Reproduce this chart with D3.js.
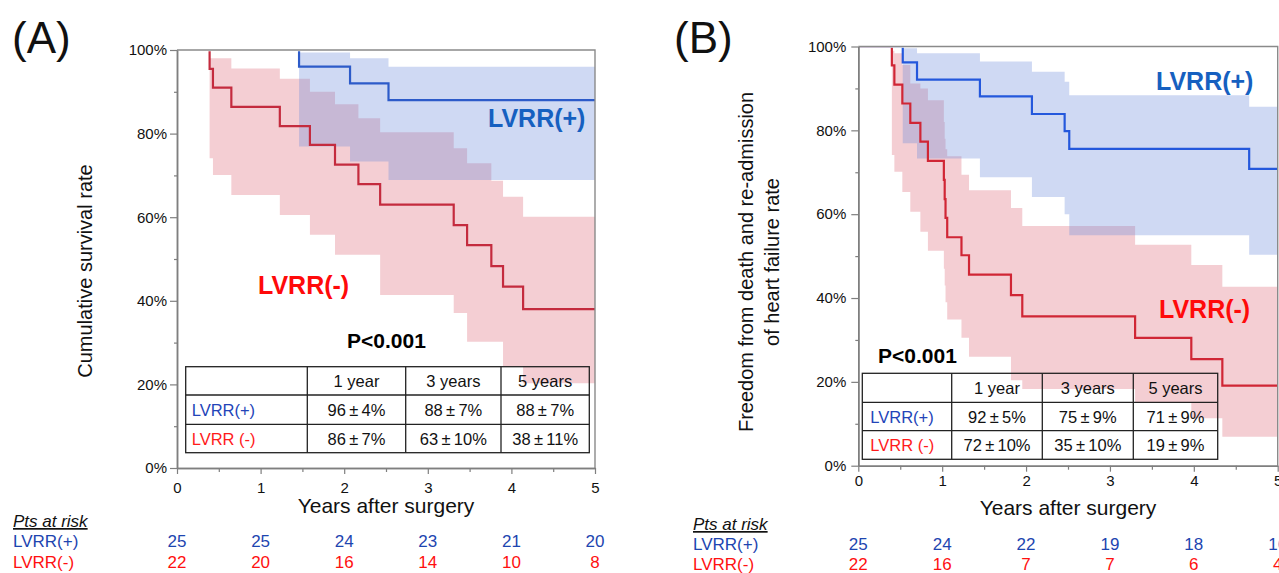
<!DOCTYPE html>
<html><head><meta charset="utf-8">
<script src="https://cdn.jsdelivr.net/npm/d3@7"></script>
<style>
html,body{margin:0;padding:0;background:#fff;overflow:hidden;}
svg{display:block;font-family:"Liberation Sans",Arial,sans-serif;}
</style></head><body>
<svg id="chart" width="1279" height="573"></svg>
<script>
// ---------------- DATA ----------------
const xTicks = [0, 1, 2, 3, 4, 5];
const xMinorTicks = [0.5, 1.5, 2.5, 3.5, 4.5];
const yTicks = [0, 20, 40, 60, 80, 100];
const yMinorTicks = [10, 30, 50, 70, 90];
const groups = ["LVRR(+)", "LVRR(-)"];
const tableHeaders = ["1 year", "3 years", "5 years"];
const tableRowLabels = ["LVRR(+)", "LVRR (-)"];

// Panel A : cumulative survival
const A_pos_time  = [0, 1.46, 2.07, 2.53];
const A_pos_surv  = [100, 96.0, 92.0, 88.0];
const A_pos_upper = [100, 99.4, 98.0, 96.0];
const A_pos_lower = [100, 76.9, 73.3, 68.9];

const A_neg_time  = [0, 0.39, 0.43, 0.65, 1.23, 1.59, 1.89, 2.17, 2.43, 3.31, 3.47, 3.76, 3.90, 4.14];
const A_neg_surv  = [100, 95.5, 91.0, 86.4, 81.8, 77.3, 72.6, 67.9, 63.0, 58.1, 53.3, 48.3, 43.4, 38.0];
const A_neg_upper = [100, 98.0, 98.0, 95.6, 93.1, 90.0, 87.0, 83.7, 80.3, 76.5, 72.9, 68.7, 64.9, 60.1];
const A_neg_lower = [100, 74.1, 70.1, 65.3, 60.5, 55.8, 51.0, 51.0, 41.4, 37.1, 30.2, 30.2, 24.2, 20.3];

const A_table_pos = ["96\u2009±\u20094%", "88\u2009±\u20097%", "88\u2009±\u20097%"];
const A_table_neg = ["86\u2009±\u20097%", "63\u2009±\u200910%", "38\u2009±\u200911%"];
const A_risk_pos = [25, 25, 24, 23, 21, 20];
const A_risk_neg = [22, 20, 16, 14, 10, 8];

// Panel B : freedom from death and HF re-admission
const B_pos_time  = [0, 0.53, 0.70, 1.45, 2.07, 2.46, 2.515, 4.66];
const B_pos_surv  = [100, 96.2, 92.1, 88.1, 83.9, 79.8, 75.6, 70.8];
const B_pos_upper = [100, 99.6, 98.4, 96.4, 94.0, 91.6, 88.4, 85.6];
const B_pos_lower = [100, 76.9, 73.3, 68.8, 64.1, 60.0, 55.0, 50.3];

const B_neg_time  = [0, 0.40, 0.43, 0.525, 0.62, 0.74, 0.83, 1.02, 1.03, 1.04, 1.06, 1.23, 1.32, 1.82, 1.955, 3.30, 3.97, 4.34];
const B_neg_surv  = [100, 95.5, 90.9, 86.4, 81.8, 77.3, 72.7, 68.2, 63.6, 59.1, 54.5, 50.2, 45.6, 40.7, 35.6, 30.5, 25.4, 19.1];
const B_neg_upper = [100, 99.0, 98.4, 95.6, 91.2, 90.0, 87.2, 82.0, 78.0, 75.5, 73.8, 69.4, 65.7, 61.5, 57.2, 52.7, 47.9, 42.7];
const B_neg_lower = [100, 74.1, 70.1, 65.3, 60.6, 55.8, 51.3, 47.0, 43.0, 39.0, 34.9, 30.5, 26.0, 20.4, 18.3, 15.0, 11.3, 6.9];

const B_table_pos = ["92\u2009±\u20095%", "75\u2009±\u20099%", "71\u2009±\u20099%"];
const B_table_neg = ["72\u2009±\u200910%", "35\u2009±\u200910%", "19\u2009±\u20099%"];
const B_risk_pos = [25, 24, 22, 19, 18, 16];
const B_risk_neg = [22, 16, 7, 7, 6, 4];

// ---------------- DRAWING ----------------
const svg = d3.select("#chart");
const defs = svg.append("defs");
const C = {
  pinkBand: "#f4ced3", blueBand: "rgb(109,140,218)", blueBandOp: 0.33,
  axis: "#7f7f7f", lblBlue: "#1660c0", lblRed: "#ff0a0a",
  rowBlue: "#2344b8", rowRed: "#ff1a1a", riskBlue: "#1d45b0", riskRed: "#ff1010"
};

function panel(cfg) {
  const x = d3.scaleLinear().domain([0, 5]).range(cfg.xr);
  const y = d3.scaleLinear().domain([0, 100]).range(cfg.yr);
  const g = svg.append("g");
  const [x0, x1] = x.range(), [yb, yt] = y.range();

  defs.append("clipPath").attr("id", cfg.id).append("rect")
    .attr("x", x0 - 3).attr("y", yt + 1.2).attr("width", x1 - x0 + 6).attr("height", yb - yt);

  const mk = (t, s, u, l) => {
    const pts = t.map((tt, i) => ({ t: tt, s: s[i], u: u[i], l: l[i] }));
    const last = pts[pts.length - 1];
    pts.push({ t: x.domain()[1], s: last.s, u: last.u, l: last.l });
    return pts;
  };
  const pos = mk(...cfg.pos);
  const neg = mk(...cfg.neg);
  const area = d3.area().curve(d3.curveStepAfter).x(d => x(d.t)).y0(d => y(d.l)).y1(d => y(d.u));
  const line = d3.line().curve(d3.curveStepAfter).x(d => x(d.t)).y(d => y(d.s));

  g.append("path").datum(neg).attr("d", area).attr("fill", C.pinkBand);
  g.append("path").datum(pos).attr("d", area).attr("fill", C.blueBand).attr("fill-opacity", C.blueBandOp);
  const lg = g.append("g").attr("clip-path", `url(#${cfg.id})`);
  lg.append("path").datum(neg).attr("d", line).attr("fill", "none").attr("stroke", cfg.redLine).attr("stroke-width", 2.2);
  lg.append("path").datum(pos).attr("d", line).attr("fill", "none").attr("stroke", cfg.blueLine).attr("stroke-width", 2.2);

  // frame (top & right)
  g.append("path").attr("d", `M${x0},${yt}H${x1}V${yb}`).attr("fill", "none").attr("stroke", "#8a8a8a").attr("stroke-width", 1.4);

  // axes
  const styleAxis = sel => {
    sel.selectAll("path.domain").attr("stroke", C.axis).attr("stroke-width", 1.5);
    sel.selectAll(".tick line").attr("stroke", C.axis).attr("stroke-width", 1.2);
    sel.selectAll("text").attr("fill", "#111").style("font-family", '"Liberation Sans", Arial, sans-serif').style("font-size", "15px");
  };
  g.append("g").attr("transform", `translate(${x0},0)`)
    .call(d3.axisLeft(y).tickValues(yMinorTicks).tickSize(3).tickSizeOuter(0).tickFormat(""))
    .call(styleAxis);
  g.append("g").attr("transform", `translate(${x0},0)`)
    .call(d3.axisLeft(y).tickValues(yTicks).tickSize(7).tickSizeOuter(0).tickPadding(cfg.yPad).tickFormat(d => d + "%"))
    .call(styleAxis);
  g.append("g").attr("transform", `translate(0,${yb})`)
    .call(d3.axisBottom(x).tickValues(xMinorTicks).tickSize(4).tickSizeOuter(0).tickFormat(""))
    .call(styleAxis);
  g.append("g").attr("transform", `translate(0,${yb})`)
    .call(d3.axisBottom(x).tickValues(xTicks).tickSize(6).tickSizeOuter(0).tickPadding(cfg.xPad).tickFormat(d3.format("d")))
    .call(styleAxis);

  // titles
  g.append("text").attr("x", cfg.letterX).attr("y", cfg.letterY).text(cfg.letter)
    .style("font-size", "44px").attr("fill", "#111");
  const yt0 = g.append("text").attr("transform", `translate(${cfg.yTitleX},${cfg.yTitleY}) rotate(-90)`)
    .attr("text-anchor", "middle").style("font-size", "20px").attr("fill", "#111");
  cfg.yTitle.forEach((t, i) => yt0.append("tspan").attr("x", 0).attr("dy", i === 0 ? 0 : "1.3em").text(t));
  g.append("text").attr("x", (x0 + x1) / 2).attr("y", cfg.xTitleY).attr("text-anchor", "middle")
    .style("font-size", "21px").attr("fill", "#111").text("Years after surgery");

  // curve labels
  g.append("text").attr("x", cfg.posLbl[0]).attr("y", cfg.posLbl[1]).text(groups[0])
    .style("font-size", "25px").style("font-weight", "bold").attr("fill", C.lblBlue);
  g.append("text").attr("x", cfg.negLbl[0]).attr("y", cfg.negLbl[1]).text(groups[1])
    .style("font-size", "25px").style("font-weight", "bold").attr("fill", C.lblRed);
  g.append("text").attr("x", cfg.pLbl[0]).attr("y", cfg.pLbl[1]).text("P<0.001")
    .style("font-size", "21px").style("font-weight", "bold").attr("fill", "#000");

  // summary table
  const tx = cfg.tableX, ty = cfg.tableY;
  const tg = g.append("g");
  tg.append("rect").attr("x", tx[0]).attr("y", ty[0]).attr("width", tx[4] - tx[0]).attr("height", ty[3] - ty[0])
    .attr("fill", "none").attr("stroke", "#222").attr("stroke-width", 1.3);
  tx.slice(1, 4).forEach(v => tg.append("line").attr("x1", v).attr("x2", v).attr("y1", ty[0]).attr("y2", ty[3]).attr("stroke", "#222").attr("stroke-width", 1.3));
  ty.slice(1, 3).forEach(v => tg.append("line").attr("y1", v).attr("y2", v).attr("x1", tx[0]).attr("x2", tx[4]).attr("stroke", "#222").attr("stroke-width", 1.3));
  const rowMid = i => (ty[i] + ty[i + 1]) / 2 + 6;
  const colMid = j => (tx[j + 1] + tx[j + 2]) / 2;
  tableHeaders.forEach((h, j) => tg.append("text").attr("x", colMid(j)).attr("y", rowMid(0)).attr("text-anchor", "middle").style("font-size", "16.5px").attr("fill", "#111").text(h));
  [cfg.tpos, cfg.tneg].forEach((row, r) => {
    tg.append("text").attr("x", tx[0] + cfg.rowPad).attr("y", rowMid(r + 1)).style("font-size", "16.5px")
      .attr("fill", r === 0 ? C.rowBlue : C.rowRed).text(tableRowLabels[r]);
    row.forEach((v, j) => tg.append("text").attr("x", colMid(j)).attr("y", rowMid(r + 1)).attr("text-anchor", "middle")
      .style("font-size", "16.5px").attr("fill", "#111").text(v));
  });

  // patients at risk
  const rg = g.append("g").style("font-size", "17px");
  rg.append("text").attr("x", cfg.riskX).attr("y", cfg.riskY[0]).text("Pts at risk")
    .style("font-style", "italic").style("text-decoration", "underline").attr("fill", "#111");
  rg.append("text").attr("x", cfg.riskX).attr("y", cfg.riskY[1]).text(groups[0]).attr("fill", C.riskBlue);
  rg.append("text").attr("x", cfg.riskX).attr("y", cfg.riskY[2]).text(groups[1]).attr("fill", C.riskRed);
  cfg.rpos.forEach((v, i) => rg.append("text").attr("x", x(xTicks[i])).attr("y", cfg.riskY[1]).attr("text-anchor", "middle").attr("fill", C.riskBlue).text(v));
  cfg.rneg.forEach((v, i) => rg.append("text").attr("x", x(xTicks[i])).attr("y", cfg.riskY[2]).attr("text-anchor", "middle").attr("fill", C.riskRed).text(v));
}

panel({
  id: "clipA",
  xr: [177, 595], yr: [468, 50], yPad: 3, xPad: 8,
  pos: [A_pos_time, A_pos_surv, A_pos_upper, A_pos_lower],
  neg: [A_neg_time, A_neg_surv, A_neg_upper, A_neg_lower],
  blueLine: "#2d5bc9", redLine: "#c42b3e",
  letter: "(A)", letterX: 12, letterY: 53,
  yTitle: ["Cumulative survival rate"], yTitleX: 92, yTitleY: 271,
  xTitleY: 513,
  posLbl: [488, 127], negLbl: [258, 294], pLbl: [347, 348],
  tableX: [185.7, 307.3, 405.7, 501, 589.3], tableY: [366.7, 395, 424.3, 452.7], rowPad: 6,
  tpos: A_table_pos, tneg: A_table_neg,
  riskX: 13, riskY: [527, 547, 568], rpos: A_risk_pos, rneg: A_risk_neg
});

panel({
  id: "clipB",
  xr: [858.3, 1277.7], yr: [465.7, 46.5], yPad: 5, xPad: 4,
  pos: [B_pos_time, B_pos_surv, B_pos_upper, B_pos_lower],
  neg: [B_neg_time, B_neg_surv, B_neg_upper, B_neg_lower],
  blueLine: "#2458dc", redLine: "#d02635",
  letter: "(B)", letterX: 674, letterY: 53,
  yTitle: ["Freedom from death and re-admission", "of heart failure rate"], yTitleX: 753, yTitleY: 262,
  xTitleY: 515,
  posLbl: [1156, 90], negLbl: [1159, 318], pLbl: [878, 363],
  tableX: [862.3, 951.7, 1042.3, 1133.3, 1217.7], tableY: [373.3, 402.3, 430.7, 459.3], rowPad: 8,
  tpos: B_table_pos, tneg: B_table_neg,
  riskX: 693, riskY: [530, 550, 570], rpos: B_risk_pos, rneg: B_risk_neg
});
</script>
</body></html>
